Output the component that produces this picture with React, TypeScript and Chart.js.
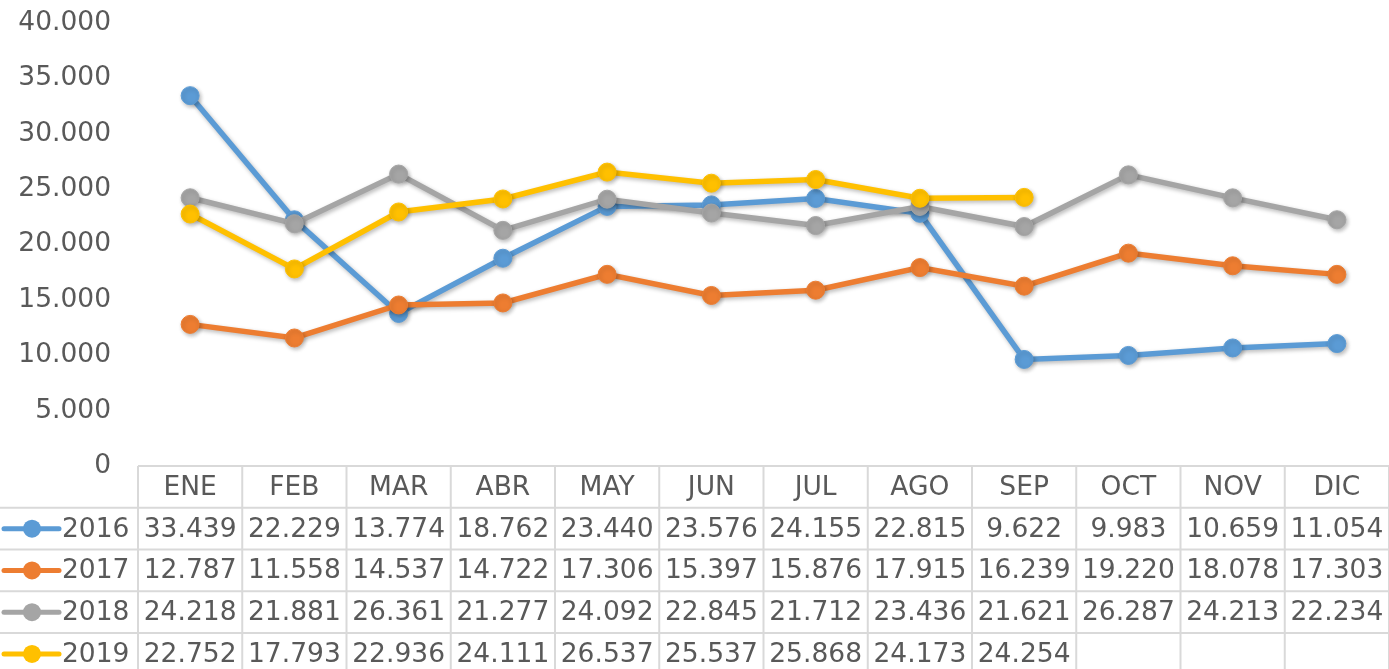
import React, { useEffect, useRef } from "react";
import { Chart, registerables } from "chart.js";

Chart.register(...registerables);

const MONTHS = ["ENE", "FEB", "MAR", "ABR", "MAY", "JUN", "JUL", "AGO", "SEP", "OCT", "NOV", "DIC"];
const YEARS = ["2016", "2017", "2018", "2019"];
const S2016 = [33439, 22229, 13774, 18762, 23440, 23576, 24155, 22815, 9622, 9983, 10659, 11054];
const S2017 = [12787, 11558, 14537, 14722, 17306, 15397, 15876, 17915, 16239, 19220, 18078, 17303];
const S2018 = [24218, 21881, 26361, 21277, 24092, 22845, 21712, 23436, 21621, 26287, 24213, 22234];
const S2019 = [22752, 17793, 22936, 24111, 26537, 25537, 25868, 24173, 24254, null, null, null];
const SERIES = [S2016, S2017, S2018, S2019];
const COLORS = ["#5B9BD5", "#ED7D31", "#A5A5A5", "#FFC000"];
const Y_MIN = 0;
const Y_MAX = 40000;
const Y_STEP = 5000;

const FONT = "'DejaVu Sans', Verdana, sans-serif";
const FONT_SIZE = 26.5;
const TEXT = "#595959";
const GRID = "#D9D9D9";

function fmt(v: number | null): string {
  if (v === null || v === undefined) return "";
  const s = String(Math.round(v));
  return s.replace(/\B(?=(\d{3})+(?!\d))/g, ".");
}

const shadowPlugin = {
  id: "shadow",
  beforeDatasetDraw(chart: any) {
    const ctx = chart.ctx;
    ctx.save();
    ctx.shadowColor = "rgba(0,0,0,0.28)";
    ctx.shadowBlur = 4;
    ctx.shadowOffsetX = 1.5;
    ctx.shadowOffsetY = 2;
  },
  afterDatasetDraw(chart: any) {
    chart.ctx.restore();
  },
};

const tablePlugin = {
  id: "dataTable",
  afterDraw(chart: any) {
    const ctx = chart.ctx;
    const area = chart.chartArea;
    const xs = chart.scales.x;
    const colW = area.width / MONTHS.length;
    const rowH = 41.75;
    const top = area.bottom;
    const right = area.left + colW * MONTHS.length;
    ctx.save();
    ctx.strokeStyle = GRID;
    ctx.lineWidth = 2;
    ctx.beginPath();
    ctx.moveTo(area.left, top);
    ctx.lineTo(right, top);
    ctx.stroke();
    for (let r = 1; r <= YEARS.length; r++) {
      const y = top + rowH * r;
      ctx.beginPath();
      ctx.moveTo(0, y);
      ctx.lineTo(right, y);
      ctx.stroke();
    }
    for (let c = 0; c <= MONTHS.length; c++) {
      const x = area.left + colW * c;
      ctx.beginPath();
      ctx.moveTo(x, top);
      ctx.lineTo(x, chart.height + 2);
      ctx.stroke();
    }
    ctx.fillStyle = TEXT;
    ctx.font = `${FONT_SIZE}px ${FONT}`;
    ctx.textAlign = "center";
    ctx.textBaseline = "middle";
    MONTHS.forEach((m, i) => {
      ctx.fillText(m, xs.getPixelForValue(i), top + rowH / 2 + 1);
    });
    SERIES.forEach((s, r) => {
      const yc = top + rowH * (r + 1) + rowH / 2 + 1;
      ctx.textAlign = "center";
      s.forEach((v, i) => {
        ctx.fillText(fmt(v), xs.getPixelForValue(i), yc);
      });
      ctx.save();
      ctx.strokeStyle = COLORS[r];
      ctx.lineWidth = 5;
      ctx.lineCap = "round";
      ctx.beginPath();
      ctx.moveTo(4, yc - 1);
      ctx.lineTo(59, yc - 1);
      ctx.stroke();
      ctx.fillStyle = COLORS[r];
      ctx.beginPath();
      ctx.arc(32, yc - 1, 9, 0, Math.PI * 2);
      ctx.fill();
      ctx.restore();
      ctx.textAlign = "left";
      ctx.fillText(YEARS[r], 62, yc);
    });
    ctx.restore();
  },
};

export default function App() {
  const ref = useRef<HTMLCanvasElement | null>(null);
  useEffect(() => {
    if (!ref.current) return;
    const chart = new Chart(ref.current, {
      type: "line",
      data: {
        labels: MONTHS,
        datasets: SERIES.map((s, i) => ({
          label: YEARS[i],
          data: s,
          borderColor: COLORS[i],
          backgroundColor: COLORS[i],
          borderWidth: 5.5,
          pointRadius: 9,
          pointBorderWidth: 1,
          pointBackgroundColor: COLORS[i],
          pointBorderColor: COLORS[i],
          tension: 0,
          spanGaps: false,
          order: SERIES.length - 1 - i,
          clip: false,
        })),
      },
      options: {
        responsive: false,
        animation: false,
        layout: { autoPadding: false, padding: { top: 23, bottom: 203, left: 0, right: 0 } },
        plugins: {
          legend: { display: false },
          tooltip: { enabled: false },
        },
        scales: {
          x: {
            display: false,
            offset: true,
          },
          y: {
            min: Y_MIN,
            max: Y_MAX,
            afterFit: (s: any) => {
              s.width = 138;
              s.paddingTop = 0;
              s.paddingBottom = 0;
            },
            ticks: {
              stepSize: Y_STEP,
              padding: 27,
              color: TEXT,
              font: { family: FONT, size: FONT_SIZE },
              callback: (v: any) => fmt(Number(v)),
            },
            grid: { display: false, drawTicks: false },
            border: { display: false },
          },
        },
      },
      plugins: [shadowPlugin, tablePlugin],
    } as any);
    return () => chart.destroy();
  }, []);
  return (
    <div style={{ position: "fixed", left: 0, top: 0, width: 1389, height: 669, background: "#fff" }}>
      <canvas ref={ref} width={1389} height={669} style={{ display: "block" }} />
    </div>
  );
}
